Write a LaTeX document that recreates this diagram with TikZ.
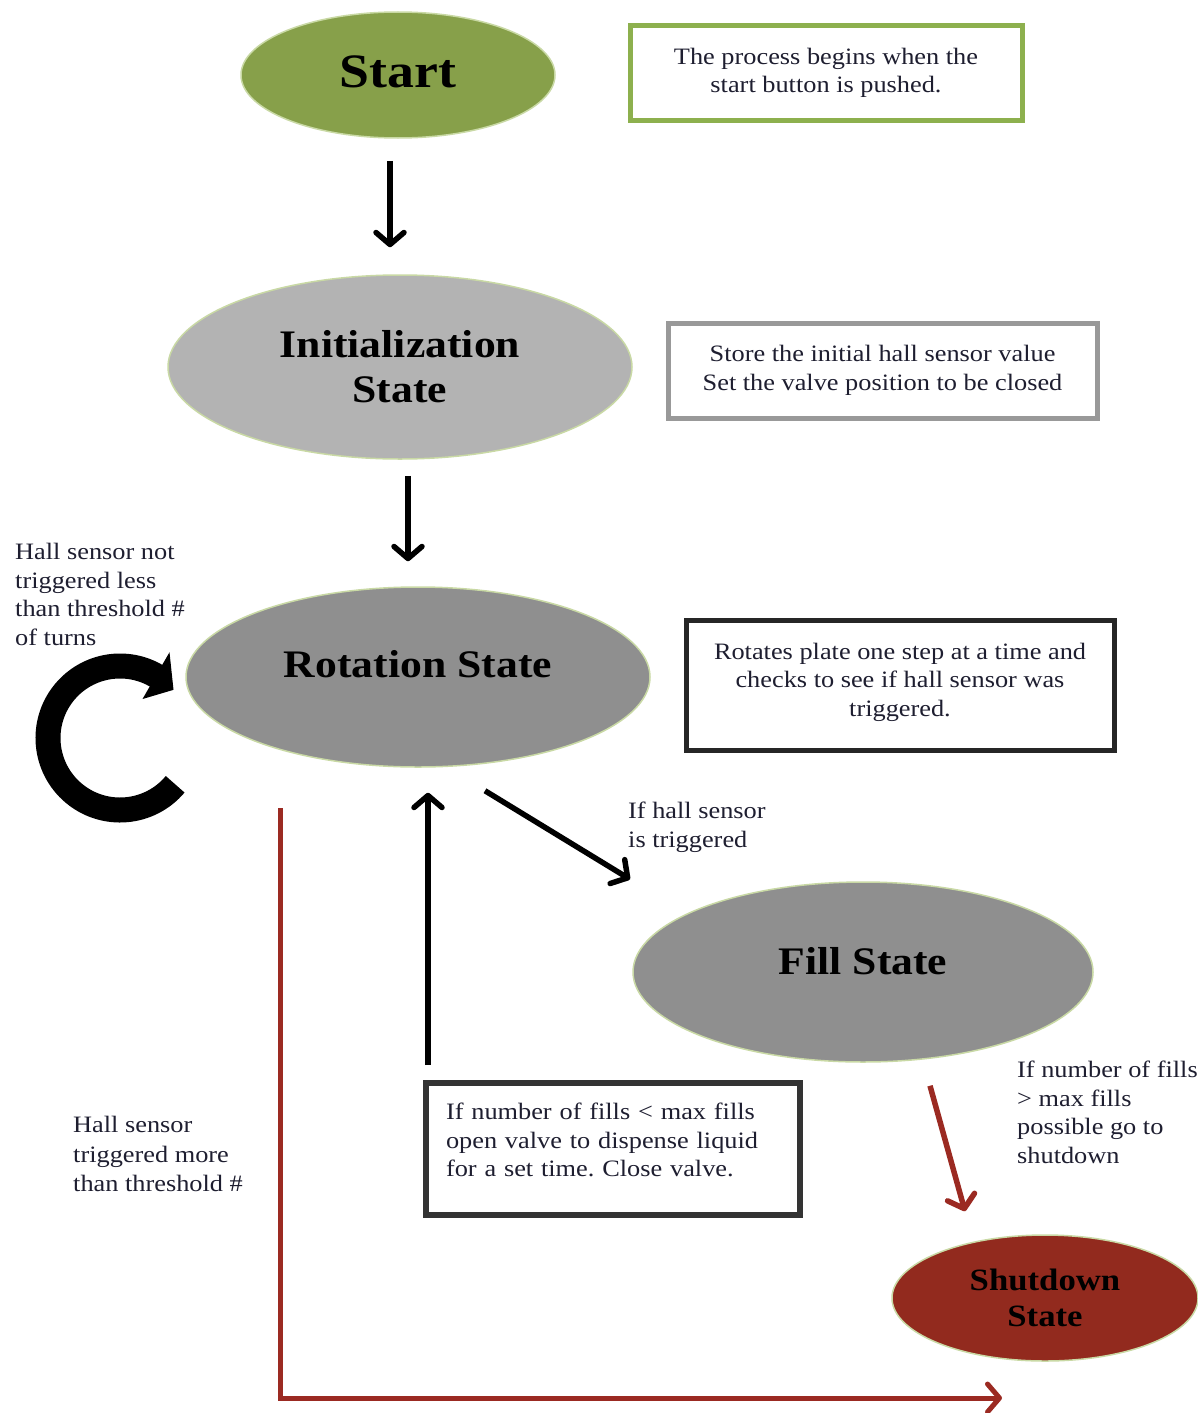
\documentclass[tikz,border=0pt]{standalone}
\usepackage{fontspec}
\setmainfont{Liberation Serif}[FakeStretch=1.12]
\usetikzlibrary{shapes.geometric,arrows.meta,calc}
\definecolor{startgreen}{HTML}{87A04A}
\definecolor{notegreen}{HTML}{8DB04E}
\definecolor{initgray}{HTML}{B3B3B3}
\definecolor{notegray}{HTML}{999999}
\definecolor{stategray}{HTML}{8F8F8F}
\definecolor{shutred}{HTML}{922A1E}
\definecolor{arrred}{HTML}{9B2A22}
\definecolor{edgegreen}{HTML}{C9D9A5}
\definecolor{textc}{HTML}{1E1E30}
\definecolor{boxdark}{HTML}{333333}
\begin{document}
\frenchspacing
\begin{tikzpicture}[x=1pt,y=-1pt,
  state/.style={ellipse, draw=edgegreen, line width=1.5pt, inner sep=0pt, align=center,
    text=black, font=\bfseries\fontsize{39}{45}\selectfont},
  note/.style={rectangle, line width=5pt, fill=white, inner sep=0pt, align=center,
    text=textc, font=\fontsize{23.5}{28.5}\selectfont},
  lbl/.style={inner sep=0pt, anchor=north west, align=left, text=textc,
    font=\fontsize{23.5}{28.5}\selectfont},
  arr/.style={line width=5.5pt, -{Straight Barb[round,length=12pt,width=28pt]}},
  redarr/.style={arr, draw=arrred}
]
\useasboundingbox (0,0) rectangle (1198,1413);

% states
\node[state, fill=startgreen, minimum width=314, minimum height=126,
  font=\bfseries\fontsize{48}{52}\selectfont, text height=34pt, text depth=10pt] (start) at (398,75) {Start};
\node[state, fill=initgray, minimum width=464, minimum height=184] (init) at (400,367) {Initialization\\State};
\node[state, fill=stategray, minimum width=464, minimum height=180, text height=20pt, text depth=20pt] (rot) at (418,677) {Rotation State};
\node[state, fill=stategray, minimum width=460, minimum height=180, text height=24pt, text depth=20pt] (fill) at (863,972) {Fill State};
\node[state, fill=shutred, minimum width=306, minimum height=126,
  font=\bfseries\fontsize{31}{36}\selectfont] (shut) at (1045,1298) {Shutdown\\State};

% notes
\node[note, draw=notegreen, minimum width=392, minimum height=94] (startnote) at (826,73)
  {The process begins when the\\start button is pushed.};
\node[note, draw=notegray, minimum width=429, minimum height=95] (initnote) at (882.5,370.5)
  {Store the initial hall sensor value\\Set the valve position to be closed};
\node[note, draw=black!85, minimum width=428, minimum height=130] (rotnote) at (900,685)
  {Rotates plate one step at a time and\\checks to see if hall sensor was\\triggered.\\[-18pt]\mbox{}};
\node[note, draw=boxdark, line width=6pt, minimum width=374, minimum height=132, align=left,
  inner xsep=20pt, text width=334pt] (fillnote) at (613,1149)
  {If number of fills < max fills\\open valve to dispense liquid\\for a set time. Close valve.\\[-10pt]\mbox{}};

% labels
\node[lbl] (loopl) at (15,543) {Hall sensor not\\triggered less\\than threshold \#\\of turns};
\node[lbl] (trigl) at (628,802) {If hall sensor\\is triggered};
\node[lbl] (maxl) at (1017,1061) {If number of fills\\> max fills\\possible go to\\shutdown};
\node[lbl, font=\fontsize{23.5}{29.5}\selectfont] (morel) at (73,1116) {Hall sensor\\triggered more\\than threshold \#};

% connectors
\draw[arr] ($(start.south)+(-8,22)$) -- ($(init.north)+(-10,-27)$);
\draw[arr] ($(init.south)+(8,16)$) -- ($(rot.north)+(-10,-25)$);
\draw[arr] ($(rot.south)+(67,23)$) -- ($(fill.north)+(-233,-2)$);
\draw[arr] ($(fillnote.north west)+(5,-15)$) -- ($(rot.south)+(10,25)$);
\draw[redarr] ($(fill.south)+(67,23)$) -- ($(shut.north)+(-80,-23)$);
\coordinate (redstart) at (280,808);
\coordinate (redend) at (1002,1398);
\draw[redarr, line width=5pt] (redstart) |- (redend);

% loop arrow (clockwise, head at upper right)
\coordinate (loopc) at (120,738);
\draw[line width=25pt] ($(loopc)+(40:72)$) arc[start angle=40, end angle=301, radius=72];
\fill ($(loopc)+(300:45)$) -- ($(loopc)+(300:99)$) -- ($(loopc)+(318:72)$) -- cycle;
\end{tikzpicture}
\end{document}
